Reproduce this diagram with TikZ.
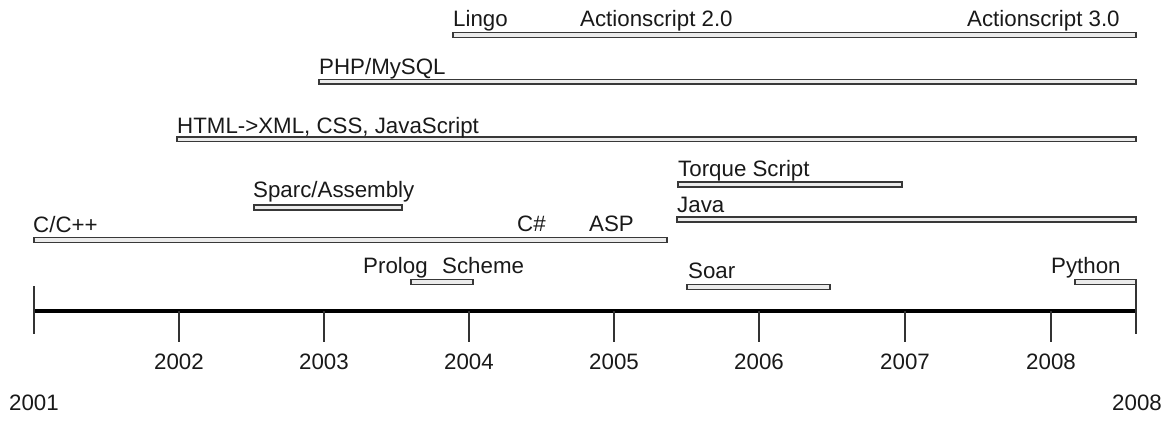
\documentclass[tikz,border=0pt]{standalone}
\usepackage{fontspec}
\setmainfont{Liberation Sans}
\begin{document}
\begin{tikzpicture}[x=1pt,y=-1pt,
  bar/.style={draw=black!78, line width=1.6pt, fill=black!8},
  lbl/.style={anchor=base west, inner sep=0pt, text=black!90, font=\fontsize{22.3}{24}\selectfont},
  yr/.style={anchor=base, inner sep=0pt, text=black!90, font=\fontsize{22.3}{24}\selectfont},
  tick/.style={draw=black!80, line width=1.8pt}]
\useasboundingbox (0,0) rectangle (1167,423);
% bars
\draw[bar] (453,32.5) rectangle (1136,37.5);
\draw[bar] (319,79.5) rectangle (1136,84);
\draw[bar] (177,137) rectangle (1136,141.5);
\draw[bar] (678,182) rectangle (902,187);
\draw[bar] (677,217) rectangle (1136,222);
\draw[bar] (254,205) rectangle (402,210);
\draw[bar] (34,237.5) rectangle (667,242.5);
\draw[bar] (411,279.5) rectangle (473,284.5);
\draw[bar] (687,284.5) rectangle (830,289.5);
\draw[bar] (1075,279.5) rectangle (1136,284.5);
% labels
\node[lbl] (lingo) at (453,27) {Lingo};
\node[lbl] (as2) at (580,27) {Actionscript 2.0};
\node[lbl] (as3) at (967,27) {Actionscript 3.0};
\node[lbl] (php) at (319,74) {PHP/MySQL};
\node[lbl] (html) at (177,133) {HTML->XML, CSS, JavaScript};
\node[lbl] (torque) at (678,176) {Torque Script};
\node[lbl] (java) at (677,212) {Java};
\node[lbl] (sparc) at (253,197) {Sparc/Assembly};
\node[lbl] (cpp) at (33,232) {C/C++};
\node[lbl] (csharp) at (517,231) {C\#};
\node[lbl] (asp) at (589,231) {ASP};
\node[lbl] (prolog) at (363,273) {Prolog};
\node[lbl] (scheme) at (442,273) {Scheme};
\node[lbl] (soar) at (688,278) {Soar};
\node[lbl] (python) at (1051,273) {Python};
% axis
\draw[line width=4pt, black] (34,311) -- (1136,311);
\draw[tick] (34,286) -- (34,334);
\draw[tick] (1136,284.5) -- (1136,334);
\foreach \x/\y in {179/2002,324/2003,469/2004,614/2005,759/2006,905/2007,1051/2008} {
  \draw[tick] (\x,311) -- (\x,342);
  \node[yr] (y\y) at (\x,369) {\y};
}
\node[yr] (y2001) at (34,410) {2001};
\node[yr] (yend) at (1137,410) {2008};
\end{tikzpicture}
\end{document}
